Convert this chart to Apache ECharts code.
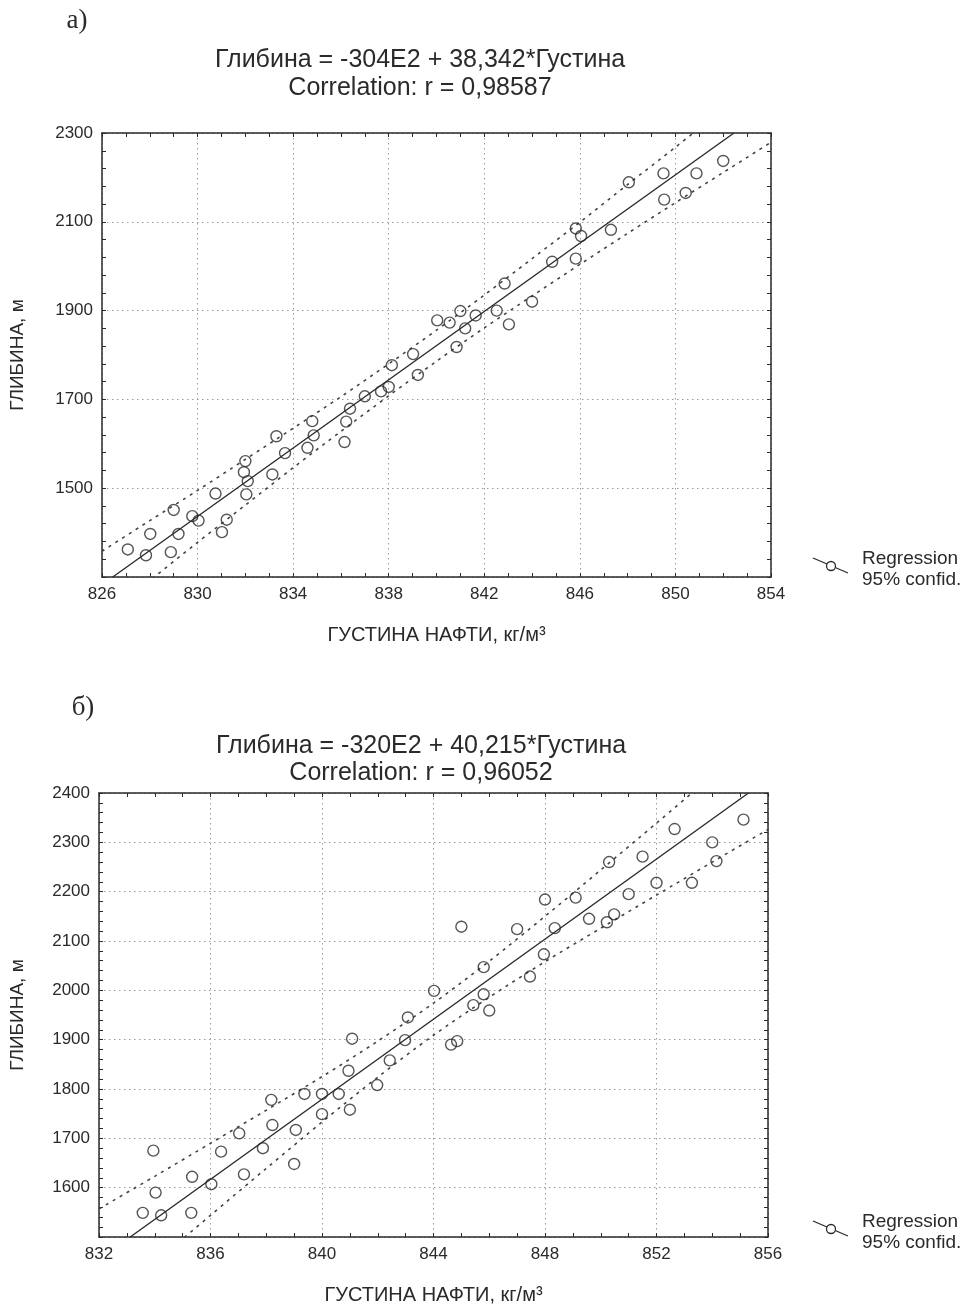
<!DOCTYPE html>
<html>
<head>
<meta charset="utf-8">
<script src="https://cdn.jsdelivr.net/npm/echarts@6/dist/echarts.min.js"></script>
<style>
html, body { margin: 0; padding: 0; background: #fff; }
#chart { width: 967px; height: 1310px; }
</style>
</head>
<body>
<div id="chart"></div>
<script>
// а) густина / глибина
var topDensity = [827.08, 827.84, 828.02, 828.88, 829.0, 829.2, 829.78, 830.04, 830.75, 831.02, 831.22, 831.94, 832.0, 832.04, 832.1, 833.13, 833.3, 833.66, 834.6, 834.8, 834.86, 836.15, 836.22, 836.38, 837.0, 837.68, 838.0, 838.13, 839.02, 839.22, 840.03, 840.55, 841.0, 841.2, 840.84, 841.64, 842.52, 843.03, 842.85, 844.0, 844.84, 845.83, 845.83, 846.05, 847.3, 848.05, 849.5, 849.53, 850.43, 850.88, 852.0];
var topDepth = [1362, 1349, 1397, 1356, 1451, 1397, 1437, 1427, 1488, 1401, 1429, 1536, 1561, 1486, 1516, 1531, 1617, 1579, 1591, 1651, 1619, 1604, 1650, 1679, 1707, 1718, 1728, 1777, 1802, 1755, 1878, 1873, 1899, 1860, 1818, 1889, 1900, 1869, 1961, 1920, 2010, 2017, 2085, 2068, 2082, 2189, 2209, 2150, 2165, 2209, 2237];
var topRegX = [826.45, 852.45];
var topRegY = [1300, 2300];
var topBandX = [826, 828, 830, 832, 834, 836, 838, 840, 842, 844, 846, 848, 850, 852, 854];
var topBandUp = [1358, 1427, 1495, 1565, 1635, 1706, 1780, 1856, 1935, 2017, 2099, 2184, 2268, 2354, 2440];
var topBandLow = [1207, 1292, 1378, 1462, 1546, 1628, 1708, 1786, 1861, 1933, 2004, 2074, 2143, 2211, 2279];

// б)
var botDensity = [833.95, 834.03, 833.57, 834.23, 835.34, 835.31, 836.03, 836.38, 837.03, 837.2, 837.88, 838.18, 838.22, 839.0, 839.06, 839.37, 840.0, 840.0, 840.6, 841.0, 840.95, 841.08, 841.98, 842.43, 842.98, 843.08, 844.02, 844.63, 844.85, 845.0, 845.43, 845.8, 845.8, 846.0, 847.0, 847.46, 847.96, 848.0, 848.35, 849.1, 849.58, 850.22, 850.48, 850.3, 851.0, 851.5, 852.0, 852.65, 853.27, 854.0, 854.15, 855.12];
var botDepth = [1675, 1590, 1549, 1544, 1622, 1549, 1607, 1673, 1710, 1627, 1680, 1778, 1727, 1648, 1717, 1790, 1790, 1749, 1790, 1758, 1837, 1902, 1808, 1858, 1899, 1945, 1999, 1890, 1897, 2129, 1970, 1992, 2047, 1959, 2124, 2028, 2073, 2184, 2126, 2188, 2145, 2138, 2154, 2260, 2195, 2271, 2218, 2327, 2218, 2300, 2262, 2346];
var botRegX = [833.12, 855.3];
var botRegY = [1500, 2400];
var botBandX = [832, 834, 836, 838, 840, 842, 844, 846, 848, 850, 852, 854, 856];
var botBandUp = [1557, 1623, 1690, 1757, 1825, 1897, 1974, 2059, 2150, 2244, 2339, 2435, 2531];
var botBandLow = [1352, 1448, 1544, 1639, 1733, 1824, 1909, 1986, 2058, 2126, 2193, 2260, 2326];

var FONT = "'Liberation Sans', Arial, sans-serif";
var INK = '#2a2a2a';

function zip(xs, ys) {
	var out = [];
	for (var i = 0; i < xs.length; i++) out.push([xs[i], ys[i]]);
	return out;
}

function plain(v) {
	return String(v);
}

function xAxes(grid, min, max) {
	var base = {
		gridIndex: grid, type: 'value', min: min, max: max, interval: 4,
		axisLine: { show: true, onZero: false, lineStyle: { color: INK, width: 1.5 } },
		axisTick: { show: true, inside: true, length: 4, lineStyle: { color: INK } },
		minorTick: { show: true, splitNumber: 4, length: 4, lineStyle: { color: INK } }
	};
	var bottom = echarts.util.merge({
		position: 'bottom',
		name: 'ГУСТИНА НАФТИ, кг/м³', nameLocation: 'middle', nameGap: 48,
		nameTextStyle: { fontFamily: FONT, fontSize: 20, color: INK },
		axisLabel: { fontFamily: FONT, fontSize: 17, color: INK, margin: 9, formatter: plain },
		splitLine: { show: true, lineStyle: { color: '#9a9a9a', type: [1.5, 3.5], width: 1 } }
	}, base, true);
	var top = echarts.util.merge({
		position: 'top', axisLabel: { show: false }, splitLine: { show: false }
	}, base, true);
	return [bottom, top];
}

function yAxes(grid, min, max, interval, nameGap) {
	var base = {
		gridIndex: grid, type: 'value', min: min, max: max, interval: interval,
		axisLine: { show: true, onZero: false, lineStyle: { color: INK, width: 1.5 } },
		axisTick: { show: true, inside: true, length: 4, lineStyle: { color: INK } },
		minorTick: { show: true, splitNumber: 5, length: 4, lineStyle: { color: INK } }
	};
	var left = echarts.util.merge({
		position: 'left',
		name: 'ГЛИБИНА, м', nameLocation: 'middle', nameGap: nameGap,
		nameTextStyle: { fontFamily: FONT, fontSize: 19, color: INK },
		axisLabel: { fontFamily: FONT, fontSize: 17, color: INK, margin: 9, showMinLabel: false, formatter: plain },
		splitLine: { show: true, lineStyle: { color: '#9a9a9a', type: [1.5, 3.5], width: 1 } }
	}, base, true);
	var right = echarts.util.merge({
		position: 'right', axisLabel: { show: false }, splitLine: { show: false }
	}, base, true);
	return [left, right];
}

function seriesFor(xi, yi, dens, depth, regX, regY, bandX, up, low) {
	var lineBase = { type: 'line', xAxisIndex: xi, yAxisIndex: yi, showSymbol: false, symbol: 'none', silent: true, clip: true, z: 3 };
	return [
		echarts.util.merge({ name: 'band up', data: zip(bandX, up), smooth: 0.3,
			lineStyle: { color: '#444', width: 1.6, type: [3, 5] } }, lineBase, true),
		echarts.util.merge({ name: 'band low', data: zip(bandX, low), smooth: 0.3,
			lineStyle: { color: '#444', width: 1.6, type: [3, 5] } }, lineBase, true),
		echarts.util.merge({ name: 'Regression', data: zip(regX, regY),
			lineStyle: { color: INK, width: 1.4 } }, lineBase, true),
		{
			type: 'scatter', xAxisIndex: xi, yAxisIndex: yi, data: zip(dens, depth),
			symbol: 'circle', symbolSize: 11, z: 4,
			itemStyle: { color: 'rgba(0,0,0,0)', borderColor: INK, borderWidth: 1.4 }
		}
	];
}

function legendGraphic(dy) {
	return [
		{ type: 'line', shape: { x1: 813, y1: 558 + dy, x2: 848, y2: 573 + dy }, style: { stroke: INK, lineWidth: 1.3 } },
		{ type: 'circle', shape: { cx: 831, cy: 566 + dy, r: 4.5 }, style: { fill: '#fff', stroke: INK, lineWidth: 1.3 } },
		{ type: 'text', x: 862, y: 559 + dy, style: { text: 'Regression', fontFamily: FONT, fontSize: 19, fill: INK, verticalAlign: 'middle' } },
		{ type: 'text', x: 862, y: 580 + dy, style: { text: '95% confid.', fontFamily: FONT, fontSize: 19, fill: INK, verticalAlign: 'middle' } }
	];
}

function titleText(x, y, text, size, family) {
	return { type: 'text', x: x, y: y, style: { text: text, fontFamily: family || FONT, fontSize: size, fill: INK, align: 'center', verticalAlign: 'middle' } };
}

var topX = xAxes(0, 826, 854);
var botX = xAxes(1, 832, 856);
var topY = yAxes(0, 1300, 2300, 200, 75);
var botY = yAxes(1, 1500, 2400, 100, 72);

var option = {
	animation: false,
	backgroundColor: '#fff',
	grid: [
		{ left: 102, top: 133, width: 669, height: 444, containLabel: false, outerBoundsMode: 'none' },
		{ left: 99, top: 793, width: 669, height: 444, containLabel: false, outerBoundsMode: 'none' }
	],
	xAxis: [topX[0], topX[1], botX[0], botX[1]],
	yAxis: [topY[0], topY[1], botY[0], botY[1]],
	series: [].concat(
		seriesFor(0, 0, topDensity, topDepth, topRegX, topRegY, topBandX, topBandUp, topBandLow),
		seriesFor(2, 2, botDensity, botDepth, botRegX, botRegY, botBandX, botBandUp, botBandLow)
	),
	graphic: [].concat(
		[
			titleText(77, 21, 'а)', 27, "'Liberation Serif', 'Times New Roman', serif"),
			titleText(420, 60, 'Глибина = -304E2 + 38,342*Густина', 25),
			titleText(420, 88, 'Correlation: r = 0,98587', 25),
			titleText(83, 708, 'б)', 27, "'Liberation Serif', 'Times New Roman', serif"),
			titleText(421, 746, 'Глибина = -320E2 + 40,215*Густина', 25),
			titleText(421, 773, 'Correlation: r = 0,96052', 25)
		],
		legendGraphic(0),
		legendGraphic(663)
	)
};

var myChart = echarts.init(document.getElementById('chart'));
myChart.setOption(option);
</script>
</body>
</html>
